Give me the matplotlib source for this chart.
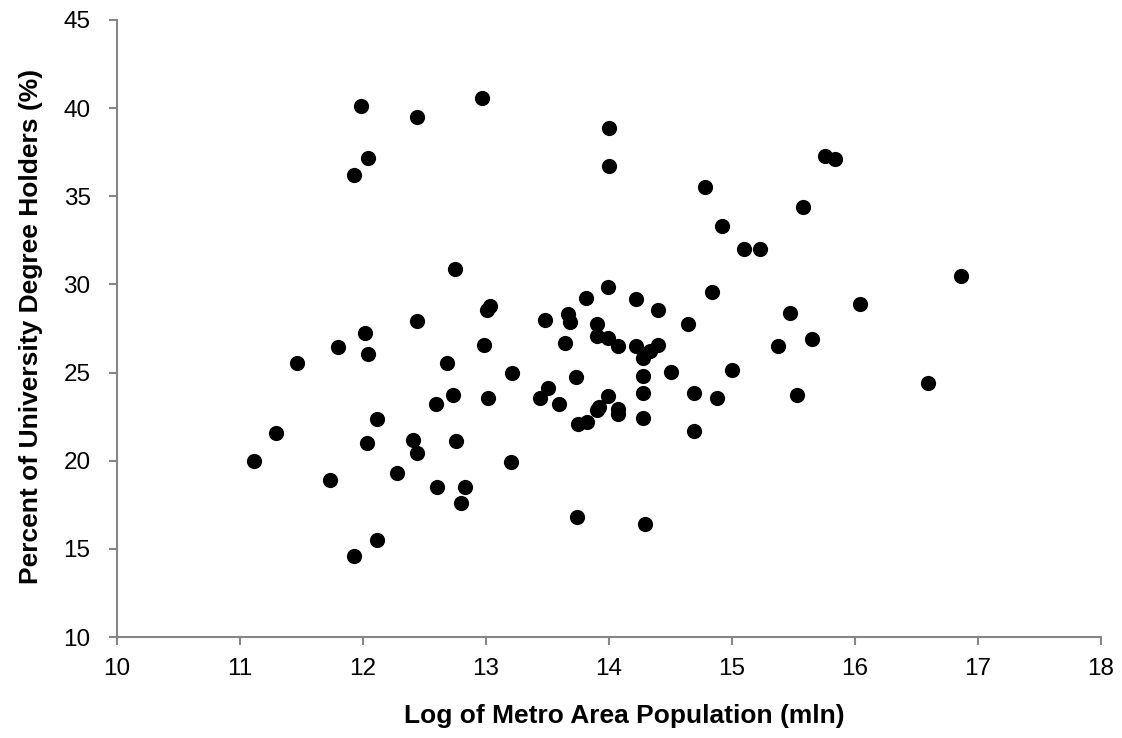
import matplotlib.pyplot as plt

# log of metro area population (mln)
log_pop = [
    11.11, 11.29, 11.46, 11.73, 11.80, 11.93, 11.93, 11.98, 12.02, 12.03,
    12.04, 12.04, 12.11, 12.11, 12.28, 12.41, 12.44, 12.44, 12.44, 12.59,
    12.60, 12.68, 12.73, 12.75, 12.76, 12.80, 12.83, 12.97, 12.98, 13.01,
    13.02, 13.03, 13.20, 13.21, 13.44, 13.48, 13.50, 13.59, 13.64, 13.67,
    13.68, 13.73, 13.74, 13.75, 13.81, 13.82, 13.90, 13.90, 13.90, 13.92,
    13.99, 13.99, 13.99, 14.00, 14.00, 14.07, 14.07, 14.07, 14.22, 14.22,
    14.28, 14.28, 14.28, 14.28, 14.29, 14.33, 14.40, 14.40, 14.50, 14.64,
    14.69, 14.69, 14.78, 14.84, 14.88, 14.92, 15.00, 15.10, 15.23, 15.37,
    15.47, 15.53, 15.58, 15.65, 15.76, 15.84, 16.04, 16.59, 16.86,
]
# percent of university degree holders
pct_degree = [
    20.0, 21.55, 25.55, 18.9, 26.45, 36.2, 14.6, 40.1, 27.25, 21.0,
    26.05, 37.2, 22.35, 15.5, 19.3, 21.2, 27.95, 20.45, 39.5, 23.2,
    18.5, 25.55, 23.7, 30.9, 21.1, 17.6, 18.5, 40.6, 26.55, 28.55,
    23.55, 28.75, 19.95, 25.0, 23.55, 28.0, 24.15, 23.2, 26.7, 28.3,
    27.85, 24.75, 16.8, 22.1, 29.25, 22.2, 27.75, 27.1, 22.85, 23.05,
    29.85, 26.95, 23.65, 38.9, 36.7, 26.5, 22.95, 22.65, 29.15, 26.5,
    25.8, 24.8, 23.85, 22.4, 16.4, 26.2, 28.55, 26.55, 25.05, 27.75,
    23.85, 21.7, 35.5, 29.55, 23.55, 33.3, 25.15, 32.0, 32.0, 26.5,
    28.4, 23.7, 34.4, 26.9, 37.3, 37.1, 28.9, 24.4, 30.5,
]

plt.rcParams['font.family'] = ['Liberation Sans', 'DejaVu Sans']

fig = plt.figure(figsize=(11.22, 7.38), dpi=100)
ax = fig.add_axes([117 / 1122, 101 / 738, 984 / 1122, 617 / 738])

ax.scatter(log_pop, pct_degree, s=120, color='black', zorder=3, linewidths=0)

ax.set_xlim(10, 18)
ax.set_ylim(10, 45)
ax.set_xticks(range(10, 19))
ax.set_yticks(range(10, 46, 5))

for side in ['top', 'right']:
    ax.spines[side].set_visible(False)
for side in ['left', 'bottom']:
    ax.spines[side].set_color('#868686')
    ax.spines[side].set_linewidth(1.5)
ax.tick_params(axis='both', colors='#868686', labelcolor='black',
               labelsize=17.5, length=6, width=1.5, direction='out')
ax.tick_params(axis='x', pad=9)
ax.tick_params(axis='y', pad=13)

ax.set_xlabel('Log of Metro Area Population (mln)', fontsize=19,
              fontweight='bold')
ax.set_ylabel('Percent of University Degree Holders (%)', fontsize=19,
              fontweight='bold')
ax.xaxis.set_label_coords(0.516, -0.108)
ax.yaxis.set_label_coords(-0.075, 0.504)

fig.savefig('out.png', dpi=100)
